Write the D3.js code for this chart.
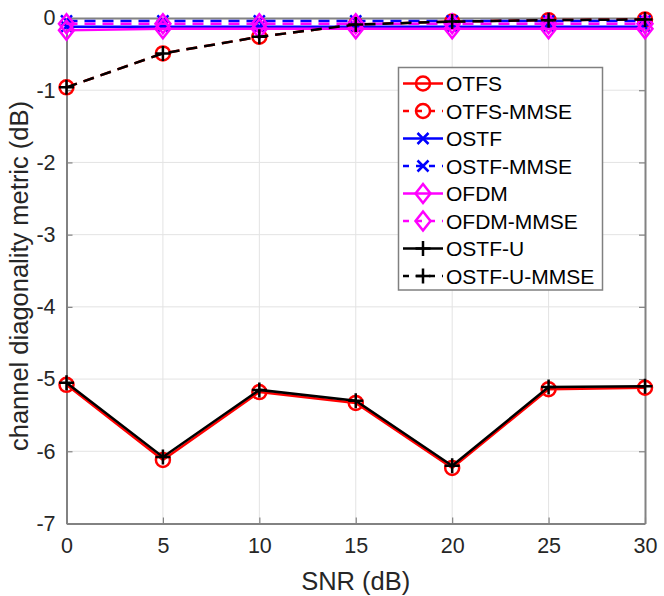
<!DOCTYPE html>
<html lang="en">
<head>
	<meta charset="UTF-8">
	<script type="text/javascript" src="https://cdn.jsdelivr.net/npm/d3@7/dist/d3.min.js"></script>
	<title>channel diagonality metric</title>
	<style>
		body { margin: 0; background: #fff; }
		text { font-family: "Liberation Sans", Arial, sans-serif; fill: #262626; }
	</style>
</head>
<body>

<svg id="chart" width="664" height="596"></svg>

<script type="text/javascript">
	// data
	var snr = [0, 5, 10, 15, 20, 25, 30];
	var otfs = [-5.08, -6.12, -5.18, -5.33, -6.23, -5.14, -5.12];
	var otfsMmse = [-0.96, -0.49, -0.26, -0.09, -0.05, -0.03, -0.02];
	var ostf = [-0.12, -0.12, -0.12, -0.12, -0.12, -0.12, -0.12];
	var ostfMmse = [-0.04, -0.04, -0.04, -0.04, -0.04, -0.04, -0.04];
	var ofdm = [-0.17, -0.15, -0.15, -0.15, -0.15, -0.15, -0.15];
	var ofdmMmse = [-0.08, -0.08, -0.08, -0.08, -0.08, -0.08, -0.08];
	var ostfU = [-5.05, -6.08, -5.15, -5.30, -6.20, -5.11, -5.10];
	var ostfUMmse = [-0.96, -0.49, -0.26, -0.09, -0.05, -0.03, -0.02];

	var xTicks = [0, 5, 10, 15, 20, 25, 30];
	var yTicks = [-7, -6, -5, -4, -3, -2, -1, 0];

	var series = [
		{ name: "OTFS", values: otfs, color: "#ff0000", dash: null, marker: "circle" },
		{ name: "OTFS-MMSE", values: otfsMmse, color: "#ff0000", dash: "11,7", marker: "circle" },
		{ name: "OSTF", values: ostf, color: "#0000ff", dash: null, marker: "x" },
		{ name: "OSTF-MMSE", values: ostfMmse, color: "#0000ff", dash: "11,7", marker: "x" },
		{ name: "OFDM", values: ofdm, color: "#ff00ff", dash: null, marker: "diamond" },
		{ name: "OFDM-MMSE", values: ofdmMmse, color: "#ff00ff", dash: "11,7", marker: "diamond" },
		{ name: "OSTF-U", values: ostfU, color: "#000000", dash: null, marker: "plus" },
		{ name: "OSTF-U-MMSE", values: ostfUMmse, color: "#000000", dash: "11,7", marker: "plus" }
	];

	// plot box
	var pL = 66.5, pR = 645, pT = 18, pB = 523.5;

	var x = d3.scaleLinear().domain([0, 30]).range([pL, pR]);
	var y = d3.scaleLinear().domain([-7, 0]).range([pB, pT]);

	var svg = d3.select("#chart");

	// grid
	svg.append("g").selectAll("line")
		.data(xTicks.slice(1, -1))
		.enter().append("line")
		.attr("x1", function(d) { return x(d); }).attr("x2", function(d) { return x(d); })
		.attr("y1", pT).attr("y2", pB)
		.attr("stroke", "#e3e3e3").attr("stroke-width", 1);
	svg.append("g").selectAll("line")
		.data(yTicks.slice(1, -1))
		.enter().append("line")
		.attr("y1", function(d) { return y(d); }).attr("y2", function(d) { return y(d); })
		.attr("x1", pL).attr("x2", pR)
		.attr("stroke", "#e3e3e3").attr("stroke-width", 1);

	// axes (ticks inward on all four sides)
	var axisColor = "#828282";
	var xb = svg.append("g").attr("transform", "translate(0," + pB + ")")
		.call(d3.axisBottom(x).tickValues(xTicks).tickSizeInner(-6).tickSizeOuter(0).tickPadding(14));
	var xt = svg.append("g").attr("transform", "translate(0," + pT + ")")
		.call(d3.axisTop(x).tickValues(xTicks).tickSizeInner(-6).tickSizeOuter(0).tickFormat(""));
	var yl = svg.append("g").attr("transform", "translate(" + pL + ",0)")
		.call(d3.axisLeft(y).tickValues(yTicks).tickSizeInner(-6).tickSizeOuter(0).tickPadding(11));
	var yr = svg.append("g").attr("transform", "translate(" + pR + ",0)")
		.call(d3.axisRight(y).tickValues(yTicks).tickSizeInner(-6).tickSizeOuter(0).tickFormat(""));

	[xb, xt, yl, yr].forEach(function(a) {
		a.select(".domain").attr("stroke", axisColor).attr("stroke-width", 2);
		a.selectAll(".tick line").attr("stroke", axisColor).attr("stroke-width", 1.2);
		a.selectAll(".tick text").style("font-size", "21.5px").attr("fill", "#262626")
			.style("font-family", "'Liberation Sans', Arial, sans-serif");
	});
	xb.selectAll(".tick text").attr("dy", "0.71em");
	// MATLAB style minus sign
	yl.selectAll(".tick text").text(function(d) { return d < 0 ? "-" + Math.abs(d) : d; });

	// axis labels
	svg.append("text")
		.attr("x", (pL + pR) / 2).attr("y", 590)
		.attr("text-anchor", "middle")
		.style("font-size", "25.5px")
		.text("SNR (dB)");
	svg.append("text")
		.attr("transform", "translate(28," + 276 + ")rotate(-90)")
		.attr("text-anchor", "middle")
		.style("font-size", "25.5px")
		.text("channel diagonality metric (dB)");

	function drawMarker(g, type, color) {
		if (type === "circle") {
			g.append("circle").attr("r", 7)
				.attr("fill", "none").attr("stroke", color).attr("stroke-width", 2.5);
		} else if (type === "x") {
			g.append("path").attr("d", "M-5.5,-5.5L5.5,5.5M-5.5,5.5L5.5,-5.5")
				.attr("fill", "none").attr("stroke", color).attr("stroke-width", 2.5);
		} else if (type === "diamond") {
			g.append("path").attr("d", "M0,-9.5L7.5,0L0,9.5L-7.5,0Z")
				.attr("fill", "none").attr("stroke", color).attr("stroke-width", 2.5);
		} else if (type === "plus") {
			g.append("path").attr("d", "M-7.5,0L7.5,0M0,-7.5L0,7.5")
				.attr("fill", "none").attr("stroke", color).attr("stroke-width", 2.5);
		}
	}

	var line = d3.line()
		.x(function(d) { return x(d[0]); })
		.y(function(d) { return y(d[1]); });

	// lines + markers, in plot order
	series.forEach(function(s) {
		var pts = snr.map(function(v, i) { return [v, s.values[i]]; });
		var g = svg.append("g");
		g.append("path")
			.attr("d", line(pts))
			.attr("fill", "none")
			.attr("stroke", s.color)
			.attr("stroke-width", 2.5)
			.attr("stroke-dasharray", s.dash);
		g.selectAll("g.mk")
			.data(pts)
			.enter().append("g")
			.attr("class", "mk")
			.attr("transform", function(d) { return "translate(" + x(d[0]) + "," + y(d[1]) + ")"; })
			.each(function() { drawMarker(d3.select(this), s.marker, s.color); });
	});

	// legend
	var lgX = 398.5, lgY = 67.5, lgW = 204, lgH = 222.5, rowH = 27.5;
	var lg = svg.append("g");
	lg.append("rect")
		.attr("x", lgX).attr("y", lgY).attr("width", lgW).attr("height", lgH)
		.attr("fill", "#fff").attr("stroke", "#808080").attr("stroke-width", 1.5);
	series.forEach(function(s, i) {
		var cy = lgY + 16 + i * rowH;
		lg.append("line")
			.attr("x1", 403).attr("x2", 443).attr("y1", cy).attr("y2", cy)
			.attr("stroke", s.color).attr("stroke-width", 2.5)
			.attr("stroke-dasharray", s.dash ? "6,7" : null);
		var m = lg.append("g").attr("transform", "translate(423," + cy + ")");
		drawMarker(m, s.marker, s.color);
		lg.append("text")
			.attr("x", 446).attr("y", cy).attr("dy", "0.36em")
			.style("font-size", "21px")
			.style("fill", "#000")
			.text(s.name);
	});
</script>

</body>
</html>
